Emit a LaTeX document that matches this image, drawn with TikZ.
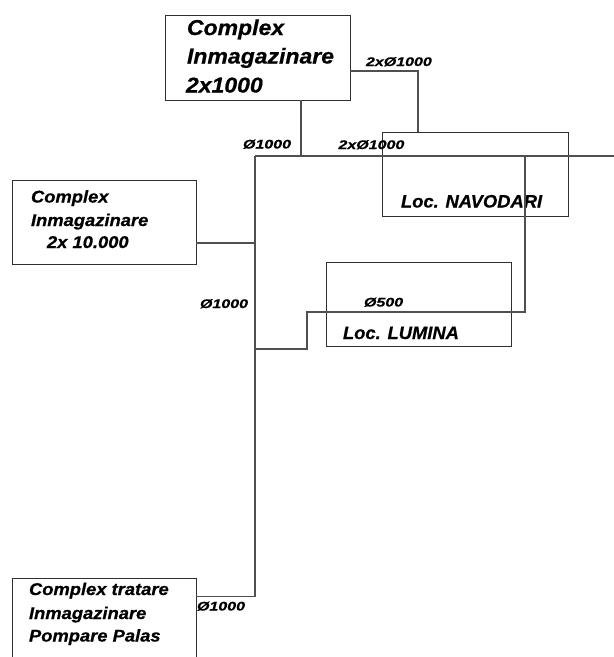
\documentclass[tikz,border=0pt]{standalone}
\usepackage{fontspec}
\setmainfont{Liberation Sans}
\newfontfamily\topfont{Liberation Sans}[FakeStretch=1.07,FakeBold=0.6]
\newfontfamily\boxfont{Liberation Sans}[FakeStretch=1.08,FakeBold=0.6]
\newfontfamily\locfont{Liberation Sans}[FakeStretch=1.02,FakeBold=0.6]
\newfontfamily\labfont{Liberation Sans}[FakeStretch=1.28,FakeBold=0.6]
\definecolor{linec}{HTML}{505050}
\definecolor{boxc}{HTML}{303030}
\begin{document}
\begin{tikzpicture}[x=1pt,y=-1pt,
  box/.style={draw=boxc, line width=1pt, inner sep=0pt, outer sep=0pt, fill=none},
  conn/.style={draw=linec, line width=1.2pt},
  txt/.style={anchor=base west, inner sep=0pt, outer sep=0pt, text=black},
  bigtxt/.style={txt, font={\topfont\fontsize{21.5}{25}\selectfont\bfseries\itshape}},
  midtxt/.style={txt, font={\boxfont\fontsize{17}{20}\selectfont\bfseries\itshape}},
  loctxt/.style={txt, font={\locfont\fontsize{18}{21}\selectfont\bfseries\itshape}},
  labtxt/.style={txt, font={\labfont\fontsize{12.5}{15}\selectfont\bfseries\itshape}}]
\useasboundingbox (0,0) rectangle (614,657);
\clip (0,0) rectangle (614,657);
\fill[white] (0,0) rectangle (614,657);

% boxes
\node[box, minimum width=185pt, minimum height=85pt] (top) at (257.5,57.5) {};
\node[box, minimum width=184pt, minimum height=84pt] (inm) at (104,222) {};
\node[box, minimum width=186pt, minimum height=84pt] (nav) at (475,174) {};
\node[box, minimum width=185pt, minimum height=84pt] (lum) at (418.5,304) {};
\node[box, minimum width=184pt, minimum height=110pt] (pal) at (104,633) {};

% box texts
\node[bigtxt] (top1) at (187,35) {Complex};
\node[bigtxt] (top2) at (187,63.5) {Inmagazinare};
\node[bigtxt] (top3) at (186,92.5) {2x1000};

\node[midtxt] (inm1) at (31,202.5) {Complex};
\node[midtxt] (inm2) at (31,226) {Inmagazinare};
\node[midtxt] (inm3) at (47,248) {2x 10.000};

\node[midtxt] (pal1) at (29,595) {Complex tratare};
\node[midtxt] (pal2) at (29,619) {Inmagazinare};
\node[midtxt] (pal3) at (29,641.5) {Pompare Palas};

\node[loctxt] (navt) at (401,207.5) {Loc. NAVODARI};
\node[loctxt] (lumt) at (343,339) {Loc. LUMINA};

% connectors
\coordinate (c1) at (418,71);
\draw[conn] (top.east |- c1) -- (c1) -- (c1 |- nav.north);

\coordinate (jtop) at (301,156);
\draw[conn] (top.south -| jtop) -- (jtop);

\coordinate (hL) at (255,156);
\coordinate (hR) at (614,156);
\draw[conn] (hL) -- (hR);

\coordinate (vB) at (255,596.5);
\draw[conn] (hL) -- (vB) -- (vB -| pal.east);

\coordinate (j2) at (255,243);
\draw[conn] (inm.east |- j2) -- (j2);

\coordinate (n1) at (525,156);
\coordinate (l1) at (525,312);
\coordinate (l2) at (307,312);
\coordinate (l3) at (307,349);
\coordinate (l4) at (255,349);
\draw[conn] (n1) -- (l1) -- (l2) -- (l3) -- (l4);

% labels
\node[labtxt] (lab1) at (366,66) {2xØ1000};
\node[labtxt] (lab2) at (243,148.5) {Ø1000};
\node[labtxt] (lab3) at (338.5,149) {2xØ1000};
\node[labtxt] (lab4) at (200,308) {Ø1000};
\node[labtxt] (lab5) at (364,306.5) {Ø500};
\node[labtxt] (lab6) at (197,610.5) {Ø1000};
\end{tikzpicture}
\end{document}
